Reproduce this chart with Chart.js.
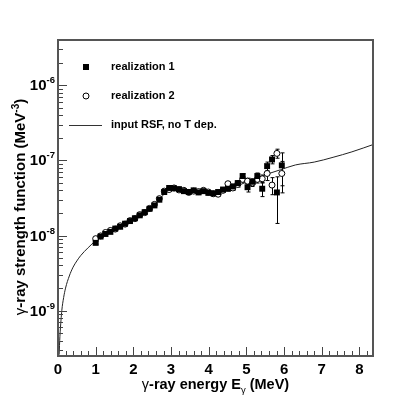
<!DOCTYPE html>
<html>
<head>
<meta charset="utf-8">
<script src="https://cdn.jsdelivr.net/npm/chart.js@4.4.0/dist/chart.umd.min.js"></script>
<style>
  body { margin: 0; background: #fff; }
  #wrap { width: 415px; height: 399px; position: relative; }
</style>
</head>
<body>
<div id="wrap"><canvas id="chart"></canvas></div>
<script>
// ===== Data =====
const energies = [1.00,1.13,1.26,1.39,1.52,1.65,1.78,1.91,2.04,2.17,2.30,2.43,2.56,2.69,2.82,2.95,3.08,3.21,3.34,3.47,
                  3.60,3.73,3.86,3.99,4.12,4.25,4.38,4.51,4.64,4.77,4.90,5.03,5.16,5.29,5.42,5.55,5.68,5.81,5.94];

const real1 = [8.0e-9,9.7e-9,1.05e-8,1.12e-8,1.24e-8,1.31e-8,1.44e-8,1.56e-8,1.70e-8,1.86e-8,2.05e-8,2.27e-8,2.52e-8,3.0e-8,3.8e-8,4.3e-8,4.25e-8,4.15e-8,3.9e-8,3.8e-8,
               4.0e-8,3.75e-8,3.9e-8,3.7e-8,3.65e-8,3.8e-8,4.1e-8,4.2e-8,4.5e-8,5.0e-8,6.2e-8,4.4e-8,5.2e-8,6.2e-8,4.2e-8,8.4e-8,1.03e-7,3.75e-8,8.6e-8];
const err1  = [3e-10,3e-10,4e-10,4e-10,4e-10,5e-10,5e-10,6e-10,6e-10,7e-10,8e-10,9e-10,1e-9,1.2e-9,1.5e-9,1.7e-9,1.7e-9,1.7e-9,1.6e-9,1.6e-9,
               1.8e-9,1.8e-9,2e-9,2e-9,2e-9,2.2e-9,2.5e-9,2.8e-9,3.2e-9,3.8e-9,4.5e-9,6e-9,5e-9,6e-9,9e-9,1.1e-8,1.3e-8,2.3e-8,4e-8];

const real2 = [9.1e-9,9.9e-9,1.1e-8,1.17e-8,1.22e-8,1.35e-8,1.42e-8,1.58e-8,1.68e-8,1.9e-8,2.02e-8,2.3e-8,2.6e-8,3.1e-8,3.9e-8,4.1e-8,4.3e-8,4.05e-8,4.0e-8,3.75e-8,
               3.9e-8,3.85e-8,4.0e-8,3.8e-8,3.6e-8,3.55e-8,4.0e-8,4.9e-8,4.3e-8,4.8e-8,5.6e-8,5.3e-8,5.0e-8,5.6e-8,5.7e-8,6.7e-8,4.7e-8,1.24e-7,6.7e-8];
const err2  = [3e-10,3e-10,4e-10,4e-10,4e-10,5e-10,5e-10,6e-10,6e-10,7e-10,8e-10,9e-10,1e-9,1.2e-9,1.5e-9,1.7e-9,1.7e-9,1.7e-9,1.6e-9,1.6e-9,
               1.8e-9,1.8e-9,2e-9,2e-9,2e-9,2.2e-9,2.5e-9,2.8e-9,3.2e-9,3.8e-9,4.5e-9,5e-9,5e-9,6e-9,7e-9,1.3e-8,1.2e-8,1.7e-8,3e-8];

const rsfEnergy = [0.03,0.05,0.08,0.10,0.15,0.20,0.30,0.40,0.50,0.60,0.80,1.00,1.50,2.00,2.50,2.80,2.95,3.20,3.60,4.00,
                   4.40,4.80,5.20,5.60,5.90,6.30,6.80,7.30,7.80,8.40];
const rsfValue  = [2.6e-10,4.5e-10,7.5e-10,1.0e-9,1.5e-9,2.0e-9,2.9e-9,3.8e-9,4.6e-9,5.4e-9,6.9e-9,8.5e-9,1.2e-8,1.65e-8,2.4e-8,3.5e-8,4.3e-8,4.1e-8,3.85e-8,3.75e-8,
                   4.0e-8,4.7e-8,5.6e-8,6.7e-8,7.5e-8,8.7e-8,9.5e-8,1.1e-7,1.3e-7,1.65e-7];

const xTicks = [0,1,2,3,4,5,6,7,8];
const yTicks = [1e-9,1e-8,1e-7,1e-6];
const yTickExponents = ['-9','-8','-7','-6'];

const legendItems = [
    { text: 'realization 1', kind: 'square' },
    { text: 'realization 2', kind: 'circle' },
    { text: 'input RSF, no T dep.', kind: 'line' }
];

const FONT = '"Liberation Sans", Arial, Helvetica, sans-serif';
const X_MIN = 0, X_MAX = 8.36, Y_MIN = 2.5e-10, Y_MAX = 4e-6;

// draw a run of text pieces (each with own font and vertical shift) starting at x
function drawRich(ctx, pieces, x, y) {
    let cx = x;
    pieces.forEach(p => {
        ctx.font = p.font;
        ctx.fillText(p.t, cx, y + (p.dy || 0));
        cx += ctx.measureText(p.t).width;
    });
}
function richWidth(ctx, pieces) {
    let w = 0;
    pieces.forEach(p => { ctx.font = p.font; w += ctx.measureText(p.t).width; });
    return w;
}

const xTitle = [
    { t: '\u03B3', font: '14.5px ' + FONT }, { t: '-ray energy E', font: 'bold 14.5px ' + FONT },
    { t: '\u03B3', font: '9.5px ' + FONT, dy: 4 }, { t: ' (MeV)', font: 'bold 14.5px ' + FONT }
];
const yTitle = [
    { t: '\u03B3', font: '15px ' + FONT }, { t: '-ray strength function (MeV', font: 'bold 15px ' + FONT },
    { t: '-3', font: 'bold 10px ' + FONT, dy: -6 }, { t: ')', font: 'bold 15px ' + FONT }
];

// ===== Extra drawing: error bars, frame, inner ticks, labels, legend =====
const decorations = {
    id: 'decorations',
    beforeDatasetsDraw(chart) {
        const {ctx, scales: {x, y}, chartArea} = chart;
        ctx.save();
        ctx.beginPath();
        ctx.rect(chartArea.left, chartArea.top, chartArea.right - chartArea.left, chartArea.bottom - chartArea.top);
        ctx.clip();
        ctx.strokeStyle = '#000';
        ctx.lineWidth = 1;
        [[real1, err1], [real2, err2]].forEach(([vals, errs]) => {
            vals.forEach((v, i) => {
                const px = Math.round(x.getPixelForValue(energies[i])) + 0.5;
                const lo = Math.max(v - errs[i], Y_MIN);
                const yHi = y.getPixelForValue(v + errs[i]);
                const yLo = y.getPixelForValue(lo);
                ctx.beginPath();
                ctx.moveTo(px, yHi); ctx.lineTo(px, yLo);
                ctx.moveTo(px - 2, yHi); ctx.lineTo(px + 2, yHi);
                ctx.moveTo(px - 2, yLo); ctx.lineTo(px + 2, yLo);
                ctx.stroke();
            });
        });
        ctx.restore();
    },
    afterDraw(chart) {
        const {ctx, scales: {x, y}, chartArea: a} = chart;
        ctx.save();
        // inner ticks
        ctx.strokeStyle = '#444';
        ctx.lineWidth = 1;
        ctx.beginPath();
        for (let k = 0; k <= 42; k++) {
            const v = k * 0.2;
            if (v > X_MAX) break;
            const px = Math.round(x.getPixelForValue(v)) + 0.5;
            const len = (k % 5 === 0) ? 9 : 5;
            ctx.moveTo(px, a.bottom); ctx.lineTo(px, a.bottom - len);
        }
        for (let d = -10; d <= -6; d++) {
            for (let m = 1; m <= 9; m++) {
                const v = m * Math.pow(10, d);
                if (v < Y_MIN || v > Y_MAX) continue;
                const py = Math.round(y.getPixelForValue(v)) + 0.5;
                const len = (m === 1) ? 9 : 5;
                ctx.moveTo(a.left, py); ctx.lineTo(a.left + len, py);
            }
        }
        ctx.stroke();
        // frame
        ctx.strokeStyle = '#555';
        ctx.lineWidth = 2;
        ctx.strokeRect(a.left, a.top, a.right - a.left, a.bottom - a.top);

        ctx.fillStyle = '#000';
        ctx.textAlign = 'left';
        ctx.textBaseline = 'alphabetic';
        // y tick labels 10^n
        yTicks.forEach((v, i) => {
            const py = y.getPixelForValue(v);
            const pieces = [{ t: '10', font: 'bold 15px ' + FONT }, { t: yTickExponents[i], font: 'bold 9.5px ' + FONT, dy: -7 }];
            drawRich(ctx, pieces, a.left - 3 - richWidth(ctx, pieces), py + 5);
        });
        // axis titles
        const xw = richWidth(ctx, xTitle);
        drawRich(ctx, xTitle, (a.left + a.right) / 2 - xw / 2, 389);
        ctx.save();
        ctx.translate(25, 207);
        ctx.rotate(-Math.PI / 2);
        const yw = richWidth(ctx, yTitle);
        drawRich(ctx, yTitle, -yw / 2, 0);
        ctx.restore();

        // legend
        ctx.strokeStyle = '#000';
        ctx.lineWidth = 1;
        ctx.font = 'bold 11px ' + FONT;
        ctx.textBaseline = 'middle';
        legendItems.forEach((item, i) => {
            const cy = 67 + i * 29;
            if (item.kind === 'square') {
                ctx.fillRect(83, cy - 3, 6, 6);
            } else if (item.kind === 'circle') {
                ctx.beginPath();
                ctx.arc(86, cy, 3, 0, Math.PI * 2);
                ctx.stroke();
            } else {
                ctx.strokeStyle = '#333';
                ctx.beginPath();
                ctx.moveTo(69, cy + 0.5); ctx.lineTo(102, cy + 0.5);
                ctx.stroke();
            }
            ctx.fillText(item.text, 111, cy);
        });
        ctx.restore();
    }
};

// ===== Chart =====
new Chart(document.getElementById('chart').getContext('2d'), {
    type: 'scatter',
    data: {
        datasets: [
            {
                label: 'realization 1',
                data: energies.map((e, i) => ({x: e, y: real1[i]})),
                pointStyle: 'rect', pointRadius: 4.2,
                backgroundColor: '#000', borderColor: '#000', borderWidth: 0,
                order: 0
            },
            {
                label: 'realization 2',
                data: energies.map((e, i) => ({x: e, y: real2[i]})),
                pointStyle: 'circle', pointRadius: 3,
                backgroundColor: '#fff', borderColor: '#000', borderWidth: 1,
                order: 1
            },
            {
                label: 'input RSF, no T dep.',
                type: 'line',
                data: rsfEnergy.map((e, i) => ({x: e, y: rsfValue[i]})),
                borderColor: '#222', borderWidth: 1, pointRadius: 0,
                cubicInterpolationMode: 'monotone', fill: false,
                order: 2
            }
        ]
    },
    options: {
        responsive: true,
        maintainAspectRatio: false,
        animation: false,
        layout: { padding: { top: 40, right: 42, left: 0, bottom: 0 } },
        plugins: { legend: { display: false }, tooltip: { enabled: false } },
        scales: {
            x: {
                type: 'linear', min: X_MIN, max: X_MAX,
                afterBuildTicks: s => { s.ticks = xTicks.map(v => ({value: v})); },
                afterFit: s => { s.height = 43; },
                grid: { display: false, drawTicks: false },
                border: { display: false },
                ticks: { color: '#000', padding: 5, maxRotation: 0, font: { family: FONT, size: 15, weight: 'bold' } },
                title: { display: false }
            },
            y: {
                type: 'logarithmic', min: Y_MIN, max: Y_MAX,
                afterBuildTicks: s => { s.ticks = yTicks.map(v => ({value: v})); },
                afterFit: s => { s.width = 58; },
                grid: { display: false, drawTicks: false },
                border: { display: false },
                ticks: { display: false },
                title: { display: false }
            }
        }
    },
    plugins: [decorations]
});
</script>
</body>
</html>
